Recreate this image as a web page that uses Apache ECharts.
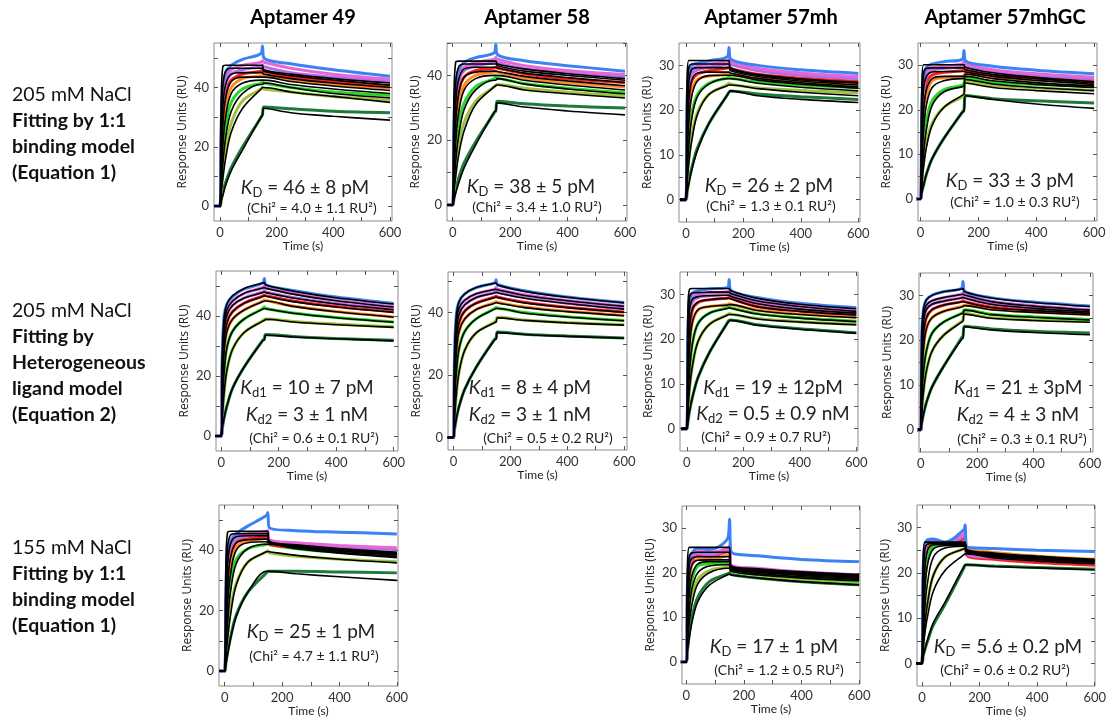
<!DOCTYPE html>
<html><head><meta charset="utf-8">
<script src="https://cdn.jsdelivr.net/npm/echarts@6/dist/echarts.min.js"></script>
<style>html,body{margin:0;padding:0;background:#fff}#c{width:1112px;height:727px}</style>
</head><body><div id="c"></div>
<script>
// ---- shared sampling times (s) and curve colours (highest -> lowest concentration)
const TIMES = [-20, 0, 4, 10, 20, 40, 80, 145, 150, 155, 250, 400, 600];
const COLORS = ['#3d82f5', '#e867d8', '#b06ee6', '#ff1f1f', '#ff8a1e', '#25d825', '#9ec23c', '#1e7a3a'];
const X_TICKS = [0, 100, 200, 300, 400, 500, 600];
const X_LABELS = [0, 200, 400, 600];
const Y_TICKS_55 = [0, 10, 20, 30, 40, 50];
const Y_LABELS_55 = [0, 20, 40];
const Y_TICKS_35 = [0, 5, 10, 15, 20, 25, 30];
const Y_LABELS_35 = [0, 10, 20, 30];
const TITLES = ['Aptamer 49', 'Aptamer 58', 'Aptamer 57mh', 'Aptamer 57mhGC'];
const ROW1_LABEL = ['205 mM NaCl', 'Fitting by 1:1', 'binding model', '(Equation 1)'];
const ROW2_LABEL = ['205 mM NaCl', 'Fitting by', 'Heterogeneous', 'ligand model', '(Equation 2)'];
const ROW3_LABEL = ['155 mM NaCl', 'Fitting by 1:1', 'binding model', '(Equation 1)'];

// ---- Aptamer 49, 205 mM, 1:1
const A49_205_11_DATA = [
 [0,0,26,40,45,47.5,49.5,51.5,54,50,48,46,43.8],
 [0,0,22,37,43,46,47.5,48.5,49,48.5,46.5,44.5,42.8],
 [0,0,19,34,41,44.5,46,47,47.5,47,45,43.5,42],
 [0,0,16,30,38,42.5,44.5,45.5,46,45.5,43.5,42,40.4],
 [0,0,12,25,34,40,43,44,44.5,44,42.5,41,39.8],
 [0,0,8,18,27,35,39.5,41.5,42,41.5,40,38.5,37.4],
 [0,0,5,12,19,28,35.5,39.5,40,39.5,38.5,37,35.7],
 [0,0,2,5,8,13,20,30,31,33.4,32.8,32,31.5]];
const A49_205_11_FIT = [
 [0,0,35,47,47.5,47.5,47.5,47.5,47.5,46,44.5,43,41.5],
 [0,0,25,40,45.5,46.5,46.5,46.5,46.5,45.5,44,42.5,40.8],
 [0,0,18,33,41,44.5,45,45,45,44.5,43,41.5,40],
 [0,0,13,27,36.5,42,43.5,43.5,43.5,43.5,42,40.5,39],
 [0,0,9,20,30,38,41.5,42.5,42.5,42.5,41,39.5,38],
 [0,0,6,14,23,32,38,41,41,41.5,40,38,36.5],
 [0,0,4,9,16,25,33,39.5,40,40,38.5,37,35],
 [0,0,1.5,3.5,7,12,19,30,30.5,33,31.5,30.3,29]];
// ---- Aptamer 58, 205 mM, 1:1
const A58_205_11_DATA = [
 [0,0,24,37,41.5,44,45.5,47,49.5,46.5,44.5,43,41.3],
 [0,0,20,34,40,42.5,44,45,45.5,45,43,41.5,40.2],
 [0,0,17,31,38,41.5,43,44,44.5,44,42,40.8,39.5],
 [0,0,14,27,35,39.5,41.5,42.3,42.5,42.3,40.5,39,37.7],
 [0,0,11,23,31,37,40,41,41.3,41,39.2,37.8,36.4],
 [0,0,7,16,25,31.5,36.5,39,39.5,39.2,37.5,36,34.6],
 [0,0,4.5,11,18,25.5,32,36.5,37,37.2,36,34.8,33.7],
 [0,0,2,4.5,8,13,19.5,28.5,29,32,31.2,30.5,29.9]];
const A58_205_11_FIT = [
 [0,0,33,44,44.4,44.4,44.4,44.4,44.4,43.5,42,40.5,39],
 [0,0,24,37,42.5,43.5,43.5,43.5,43.5,43,41.3,40,38.5],
 [0,0,17,31,38.5,42,42.5,42.5,42.5,42.3,40.7,39.3,37.8],
 [0,0,12,25,34,39.5,41,41.3,41.3,41.2,39.7,38.3,36.8],
 [0,0,8.5,19,28,35.5,39,40,40,40,38.5,37,35.5],
 [0,0,5.5,13,21,29.5,35.5,38.5,38.5,39,37.3,35.8,34.3],
 [0,0,4,8.5,15,23,31,36.5,36.8,37,35.5,34.3,33],
 [0,0,1.5,3.5,6.5,11.5,18.5,28.8,29,31.5,30.2,29,27.8]];
// ---- Aptamer 57mh, 205 mM, 1:1
const A57MH_205_11_DATA = [
 [0,0,22,28,30,30.5,31,32,34,31.5,30,29,28.2],
 [0,0,19,26.5,29,29.8,30.3,31,31.3,30.8,29.3,28.3,27.5],
 [0,0,16.5,25,28,29,29.6,30.3,30.5,30.2,28.8,27.8,27],
 [0,0,13,22,26.5,28,28.8,29.4,29.6,29.3,28,27.2,26.4],
 [0,0,10,18.5,24,26.8,27.6,28,28.2,28,27,26.3,25.7],
 [0,0,6,13,19,23.5,26,27.2,27.5,27.2,26.3,25.6,25],
 [0,0,4,9,14,19.5,23.5,25.7,26,25.8,25,24.4,23.9],
 [0,0,1.5,4,7,11.5,17,23.5,24,24.3,23.6,23,22.4]];
const A57MH_205_11_FIT = [
 [0,0,27,31.1,31.1,31.1,31.1,31.1,31.1,29.5,28,27,26.2],
 [0,0,22,29.5,30.3,30.3,30.3,30.3,30.3,29.2,27.8,26.8,26],
 [0,0,17,26,29,29.5,29.5,29.5,29.5,28.8,27.5,26.5,25.6],
 [0,0,12.5,22,26.5,28.3,28.5,28.5,28.5,28.3,27.1,26.1,25.2],
 [0,0,9,17,23,26.5,27.7,27.8,27.8,27.8,26.7,25.8,24.9],
 [0,0,5.5,12,18,23,25.8,27,27,27,26,25.1,24.3],
 [0,0,3.5,8,13,19,23.5,25.5,25.6,25.6,24.8,24,23.2],
 [0,0,1.5,3.5,6.5,11,17,23.5,24,24.3,23.2,22.4,21.7]];
// ---- Aptamer 57mhGC, 205 mM, 1:1
const A57MHGC_205_11_DATA = [
 [0,0,20,27,29.5,30.3,30.8,31.4,33.3,31,29.8,28.9,28.1],
 [0,0,17,25.5,28.5,29.5,29.8,30.3,30.8,30.3,29,28.1,27.3],
 [0,0,15,24,27.5,28.8,29.3,29.6,30,29.7,28.5,27.7,26.9],
 [0,0,12,21,26,27.8,28.4,28.8,29,28.8,27.8,27.2,26.6],
 [0,0,9,17.5,23,26.5,27.2,27.5,27.8,28.1,27.2,26.7,26.2],
 [0,0,5.5,12,17.5,22,24.5,25.5,26,27,26.2,25.7,25.2],
 [0,0,3.5,8,12.5,17,20.5,23,23.5,26.4,25.5,24.9,24.4],
 [0,0,1.5,3,5.5,9,13.5,19.5,20,23.2,22.5,22,21.5]];
const A57MHGC_205_11_FIT = [
 [0,0,25,30.1,30.1,30.1,30.1,30.1,30.1,29.5,28.3,27.3,26.3],
 [0,0,20,28,29.3,29.4,29.4,29.4,29.4,29,27.9,27,26],
 [0,0,15,24.5,27.5,28.5,28.6,28.6,28.6,28.5,27.5,26.6,25.7],
 [0,0,11,19.5,24.5,27,27.5,27.5,27.5,28,27,26.1,25.3],
 [0,0,7.5,15,21,25,26.5,27,27,27.5,26.5,25.7,25],
 [0,0,4.5,10,15.5,21,24,25.2,25.3,26.8,25.8,25,24.3],
 [0,0,3,7,11.5,16.5,20.5,23.3,23.5,26,25,24.3,23.6],
 [0,0,1.3,3,5.5,9,13.5,19.5,19.6,23.2,22.3,21.3,20.3]];
// ---- Aptamer 49, 205 mM, heterogeneous ligand
const A49_205_HET_DATA = [
 [0,0,28,40,44,46.5,49,51,52.5,50.5,48.5,46.3,44.2],
 [0,0,25,37,42,45,47.5,49.5,50,49.5,47.5,45.3,43.1],
 [0,0,22,35,40.5,43.5,46,48,48.5,48,46.2,44.2,42.3],
 [0,0,19,32,38,41.5,44.3,46.7,47,46.8,45,43.2,41.4],
 [0,0,15,28,35,39,42,45,45.3,45.2,43.3,41.5,39.7],
 [0,0,10,21,29.5,35,39,42.5,43,42.5,41,39.5,38],
 [0,0,6,14,22,29,34.5,38.5,38.8,39,38.2,37.3,36.4],
 [0,0,2.5,6,10,16,23,32,32.4,33.8,33.2,32.5,31.9]];
const A49_205_HET_FIT = [
 [0,0,27,39.5,44,46.8,49.2,51,51.2,50.3,48.3,46.1,44],
 [0,0,24.5,36.8,42,45,47.6,49.3,49.5,49.2,47.3,45.1,43],
 [0,0,21.5,34.5,40.3,43.6,46,47.8,48,47.8,46,44,42.1],
 [0,0,18.5,31.5,37.8,41.5,44.3,46.5,46.7,46.6,44.8,43,41.2],
 [0,0,14.5,27.5,34.8,39,42,44.8,45,45,43.2,41.4,39.6],
 [0,0,10,21,29.5,35,39,42.3,42.5,42.4,40.9,39.4,37.9],
 [0,0,6,14,22,29,34.5,38.3,38.5,38.9,38,37.1,36.2],
 [0,0,2.5,6,10,16,23,31.8,32,33.6,33,32.4,31.7]];
// ---- Aptamer 58, 205 mM, heterogeneous ligand
const A58_205_HET_DATA = [
 [0,0,27,39,43.5,46,48,49.5,50.5,49,47,45,43.2],
 [0,0,24,36.5,41.5,44,46,47.5,48,47.5,45.7,43.9,42.1],
 [0,0,21,34,39.5,42.5,44.8,46.5,47,46.5,44.8,43,41.2],
 [0,0,18,31,37,40.5,43,45,45.3,45,43.3,41.7,40.2],
 [0,0,14,27,34,38,41,43.2,43.5,43.3,41.8,40.4,39.1],
 [0,0,10,20.5,28.5,34,38,41.3,41.6,41.5,40,38.7,37.5],
 [0,0,6,13.5,21,28,33.5,37,37.3,38.5,37.6,36.8,36.1],
 [0,0,2.5,6,10,15.5,22.5,31.5,31.8,33.8,33.1,32.5,31.9]];
const A58_205_HET_FIT = [
 [0,0,26.5,38.8,43.5,46,48,49.4,49.5,48.8,46.8,44.9,43.1],
 [0,0,23.5,36.3,41.5,44,46,47.4,47.5,47.3,45.5,43.8,42],
 [0,0,20.5,33.8,39.5,42.5,44.8,46.3,46.5,46.3,44.6,42.9,41.1],
 [0,0,17.5,30.8,37,40.5,43,44.8,45,44.8,43.1,41.6,40.1],
 [0,0,13.5,26.8,34,38,41,43,43.2,43.1,41.6,40.3,39],
 [0,0,10,20.5,28.5,34,38,41.1,41.3,41.3,39.8,38.6,37.4],
 [0,0,6,13.5,21,28,33.5,36.8,37,38.3,37.5,36.7,36],
 [0,0,2.5,6,10,15.5,22.5,31.3,31.5,33.6,33,32.4,31.8]];
// ---- Aptamer 57mh, 205 mM, heterogeneous ligand
const A57MH_205_HET_DATA = [
 [0,0,22,28.5,30.3,30.8,31.2,31.6,33.3,31,29.3,28,27],
 [0,0,19,27,29.3,30,30.3,30.6,31,30.4,28.6,27.4,26.3],
 [0,0,16,25,28.3,29.3,29.7,30,30.2,29.8,28,26.8,25.9],
 [0,0,13,22,26.5,28.2,28.8,29.2,29.4,29.1,27.3,26.3,25.5],
 [0,0,10,18.5,23.8,26.5,27.3,27.7,27.9,27.8,26.5,25.6,24.9],
 [0,0,6,13,19,23.5,25.8,27,27.2,27,25.7,24.8,24],
 [0,0,4,9,14,19.5,23.3,25.5,25.7,25.6,24.6,23.9,23.3],
 [0,0,1.5,4,7,11.5,17,23.8,24.2,24.3,23.2,22.3,21.4]];
const A57MH_205_HET_FIT = [
 [0,0,27,31.2,31.3,31.3,31.3,31.3,31.3,30.8,29.1,27.8,26.8],
 [0,0,22,29.5,30.3,30.4,30.5,30.5,30.5,30.2,28.5,27.3,26.2],
 [0,0,17,26.5,28.9,29.5,29.7,29.8,29.8,29.6,27.9,26.7,25.8],
 [0,0,13,22.5,26.8,28.3,28.8,29.1,29.1,29,27.2,26.2,25.4],
 [0,0,9.5,18,23.8,26.6,27.3,27.6,27.7,27.7,26.4,25.5,24.8],
 [0,0,6,13,19,23.5,25.8,26.9,27,26.9,25.6,24.7,23.9],
 [0,0,4,9,14,19.5,23.3,25.4,25.5,25.5,24.5,23.8,23.2],
 [0,0,1.5,4,7,11.5,17,23.7,24,24.2,23.1,22.2,21.3]];
// ---- Aptamer 57mhGC, 205 mM, heterogeneous ligand
const A57MHGC_205_HET_DATA = [
 [0,0,22,27,29,30,30.8,31.6,33.1,31,29.5,28.5,27.6],
 [0,0,19,25.5,27.8,28.8,29.5,30.3,30.6,30.2,28.7,27.7,26.8],
 [0,0,17,24,26.8,28,28.7,29.5,29.8,29.5,28.1,27.2,26.4],
 [0,0,14,21.5,25,26.8,27.8,28.6,28.8,28.6,27.4,26.7,26.1],
 [0,0,11,18,22.5,25,26.4,27.5,27.7,27.8,26.9,26.3,25.7],
 [0,0,7,13,17.5,21.5,24,26,26.2,26.8,25.8,25.2,24.6],
 [0,0,4,8.5,13,17.5,21,24.2,24.5,26,25,24.5,24.2],
 [0,0,1.5,3.5,6,9.5,14,20.5,20.9,23.1,22.5,22,21.6]];
const A57MHGC_205_HET_FIT = [
 [0,0,22,27,29,30,30.8,31.4,31.5,30.8,29.4,28.4,27.5],
 [0,0,19,25.5,27.8,28.8,29.5,30.2,30.3,30.1,28.6,27.6,26.7],
 [0,0,17,24,26.8,28,28.7,29.4,29.5,29.4,28,27.1,26.3],
 [0,0,14,21.5,25,26.8,27.8,28.5,28.6,28.5,27.3,26.6,26],
 [0,0,11,18,22.5,25,26.4,27.4,27.5,27.7,26.8,26.2,25.6],
 [0,0,7,13,17.5,21.5,24,25.9,26,26.7,25.7,25.1,24.5],
 [0,0,4,8.5,13,17.5,21,24,24.2,25.8,24.9,24.4,24],
 [0,0,1.5,3.5,6,9.5,14,20.2,20.4,23,22.3,21.7,21.2]];
// ---- Aptamer 49, 155 mM, 1:1
const A49_155_11_DATA = [
 [0,0,25,40,43,45.5,48,51.5,52.5,47.5,46.5,46,45.4],
 [0,0,22,37,42,44.5,45.5,46.3,46.5,43.5,42.5,41.6,40.8],
 [0,0,20,35,41,43.5,44.8,45.5,45.8,43,42,41,40.2],
 [0,0,17,32,39,42.5,43.8,44.5,44.8,42.2,41,40,39.1],
 [0,0,13,27,35.5,41,43,44,44.3,42.4,41,39.8,38.7],
 [0,0,9,20,29,37,40.5,42,42.3,41.8,40.5,39.3,38.3],
 [0,0,5,12,20,29,36,39.5,39.8,39.2,38,37,36.2],
 [0,0,2.5,6,11,18.5,26,32.5,33,33,33,32.8,32.5]];
const A49_155_11_FIT = [
 [0,0,36,46,46.3,46.3,46.3,46.3,46.3,43,41.8,40.6,39.3],
 [0,0,27,41,45,45.5,45.5,45.5,45.5,42.8,41.5,40.3,39],
 [0,0,20,35,42,44.5,44.8,44.8,44.8,42.6,41.3,40,38.7],
 [0,0,14,28,37.5,42.5,43.5,43.7,43.7,42.5,41.1,39.7,38.4],
 [0,0,10,22,32,40,42.5,42.8,42.8,42.3,40.8,39.3,37.9],
 [0,0,7,16,26,35.5,40.5,42,42,42,40.5,39,37.5],
 [0,0,4.5,10.5,18.5,28.5,36,39.5,39.6,39.5,38.3,37,35.8],
 [0,0,2.2,5.5,10.5,18,26,33,33,33,32.2,31.2,30]];
// ---- Aptamer 57mh, 155 mM, 1:1
const A57MH_155_11_DATA = [
 [0,0,18,23,24.5,25.5,25.2,28,32,24.8,23.8,23,22.5],
 [0,0,16,22,23.8,24.8,24.5,25.5,26,21.8,21,20.2,19.5],
 [0,0,14.5,21,23.3,24.3,24,25,25.3,21.6,20.8,20,19.3],
 [0,0,13,20,22.8,23.8,23.7,24.8,25,21.4,20.6,19.8,19],
 [0,0,11,18,21.8,23,23,24,24.5,21.2,20.3,19.5,18.7],
 [0,0,7.5,14,18.5,21.5,22,22.3,22.5,21,20,19,18.2],
 [0,0,5,10,14.5,18.5,20.5,21.3,21.5,20.5,19.5,18.6,17.9],
 [0,0,2.5,6,10,14.5,18,19.8,20,19.6,18.8,18,17.3]];
const A57MH_155_11_FIT = [
 [0,0,22,25.7,25.7,25.7,25.7,25.7,25.7,21.6,20.9,20.2,19.6],
 [0,0,17,23.5,24.5,24.6,24.6,24.6,24.6,21.4,20.7,20,19.4],
 [0,0,14,21.5,23.3,23.6,23.6,23.6,23.6,21.2,20.5,19.8,19.2],
 [0,0,11,18.5,21.8,22.8,22.9,22.9,22.9,21,20.3,19.6,19],
 [0,0,8,15,19.5,22,22.5,22.5,22.5,20.9,20.1,19.4,18.7],
 [0,0,6,11.5,16.5,20,21.5,21.8,21.8,20.7,19.8,19.1,18.5],
 [0,0,4,8.5,13,17.5,20,21,21,20.3,19.5,18.8,18.2],
 [0,0,2.3,5.3,9,13.5,17.2,19.6,19.7,19.5,18.8,18,17.3]];
// ---- Aptamer 57mhGC, 155 mM, 1:1
const A57MHGC_155_11_DATA = [
 [0,0,20,26,27.3,27.5,26.8,29.5,30.6,25.8,25.4,25,24.7],
 [0,0,18,25,27,27.3,26.6,28.5,29,24.5,23.6,23,22.5],
 [0,0,17,24.5,26.8,27,26.5,28,28.5,24.3,23.4,22.8,22.3],
 [0,0,15,23.5,26.3,26.8,26.4,27.5,28,24,23,22.3,21.7],
 [0,0,13,22,25.8,26.6,26.4,26.8,27,25.5,24.5,23.7,23],
 [0,0,9,17.5,23,26,26.3,26.5,26.5,24.8,24,23.3,22.8],
 [0,0,4,8.5,13.5,19.5,23.5,25.3,25.5,24.7,23.8,23.1,22.5],
 [0,0,1.5,3,5,8.5,13,21,21.7,21.8,21.5,21.2,20.8]];
const A57MHGC_155_11_FIT = [
 [0,0,22,26.8,26.8,26.8,26.8,26.8,26.8,25.2,24.4,23.7,23],
 [0,0,17,25,26.4,26.5,26.5,26.5,26.5,25,24.2,23.5,22.8],
 [0,0,12,20.5,25,26.2,26.3,26.3,26.3,24.8,24,23.3,22.7],
 [0,0,8.5,16,22,25.3,26,26.1,26.1,24.7,23.9,23.2,22.6],
 [0,0,6,12,18,23.5,25.5,25.9,25.9,24.6,23.8,23.1,22.5],
 [0,0,4,8.5,13.5,19.5,23.5,25.3,25.4,24.5,23.6,22.9,22.3],
 [0,0,3,6.5,10.5,16,20.5,24,24.2,24.2,23.3,22.6,22],
 [0,0,1.5,3,5.3,9,13.5,21.3,21.7,21.8,21.4,21.1,20.7]];

// ---- panel annotations
const ANNOT = [
 {k: [['D', ' = 46 ', '±', ' 8 pM']], chi: ['4.0', '1.1']},
 {k: [['D', ' = 38 ', '±', ' 5 pM']], chi: ['3.4', '1.0']},
 {k: [['D', ' = 26 ', '±', ' 2 pM']], chi: ['1.3', '0.1']},
 {k: [['D', ' = 33 ', '±', ' 3 pM']], chi: ['1.0', '0.3']},
 {k: [['d1', ' = 10 ', '±', ' 7 pM'], ['d2', ' = 3 ', '±', ' 1 nM']], chi: ['0.6', '0.1']},
 {k: [['d1', ' = 8 ', '±', ' 4 pM'], ['d2', ' = 3 ', '±', ' 1 nM']], chi: ['0.5', '0.2']},
 {k: [['d1', ' = 19 ', '±', ' 12pM'], ['d2', ' = 0.5 ', '±', ' 0.9 nM']], chi: ['0.9', '0.7']},
 {k: [['d1', ' = 21 ', '±', ' 3pM'], ['d2', ' = 4 ', '±', ' 3 nM']], chi: ['0.3', '0.1']},
 {k: [['D', ' = 25 ', '±', ' 1 pM']], chi: ['4.7', '1.1']},
 {k: [['D', ' = 17 ', '±', ' 1 pM']], chi: ['1.2', '0.5']},
 {k: [['D', ' = 5.6 ', '±', ' 0.2 pM']], chi: ['0.6', '0.2']}
];

// ---- layout (pixels) -- box: [left, top, width, height], x/y ranges, note positions
const PANELS = [
 {data: A49_205_11_DATA, fit: A49_205_11_FIT, box: [214, 43, 178, 178], x: [-21, 607], y: [-5, 55], big: true, kx: 305, ky: [188], cx: 312, cy: 208},
 {data: A58_205_11_DATA, fit: A58_205_11_FIT, box: [447, 43, 180, 178], x: [-20, 607], y: [-5, 50], big: true, kx: 531, ky: [187], cx: 537, cy: 207},
 {data: A57MH_205_11_DATA, fit: A57MH_205_11_FIT, box: [679, 43, 181, 179], x: [-24, 606], y: [-5, 35], big: false, kx: 769, ky: [186], cx: 771, cy: 206},
 {data: A57MHGC_205_11_DATA, fit: A57MHGC_205_11_FIT, box: [918, 43, 179, 178], x: [-9, 610], y: [-5, 35], big: false, kx: 1010, ky: [181], cx: 1015, cy: 202},
 {data: A49_205_HET_DATA, fit: A49_205_HET_FIT, box: [216, 271, 182, 180], x: [-18, 615], y: [-5, 55], big: true, kx: 307, ky: [388, 415], cx: 314, cy: 438},
 {data: A58_205_HET_DATA, fit: A58_205_HET_FIT, box: [448, 272, 179, 178], x: [-19, 610], y: [-4, 53], big: true, kx: 530, ky: [388, 415], cx: 548, cy: 438},
 {data: A57MH_205_HET_DATA, fit: A57MH_205_HET_FIT, box: [680, 272, 178, 179], x: [-24, 606], y: [-5, 35], big: false, kx: 773, ky: [388, 414], cx: 766, cy: 437},
 {data: A57MHGC_205_HET_DATA, fit: A57MHGC_205_HET_FIT, box: [919, 273, 174, 179], x: [-6, 611], y: [-5, 35], big: false, kx: 1018, ky: [388, 415], cx: 1022, cy: 439},
 {data: A49_155_11_DATA, fit: A49_155_11_FIT, box: [219, 505, 179, 181], x: [-20, 604], y: [-5, 55], big: true, kx: 311, ky: [632], cx: 314, cy: 656},
 {data: A57MH_155_11_DATA, fit: A57MH_155_11_FIT, box: [682, 506, 178, 178], x: [-15, 603], y: [-5, 35], big: false, kx: 774, ky: [647], cx: 779, cy: 670},
 {data: A57MHGC_155_11_DATA, fit: A57MHGC_155_11_FIT, box: [917, 505, 178, 181], x: [-17, 601], y: [-5, 35], big: false, kx: 1008, ky: [647], cx: 1005, cy: 670}
];
const TITLE_X = [303, 537, 771, 1005];

const FONT = 'Lato, "Open Sans", sans-serif';
const option = {animation: false, grid: [], xAxis: [], yAxis: [], series: [], graphic: []};
const tick = (vals) => ({show: true, inside: true, length: 4, customValues: vals, lineStyle: {color: '#555', width: 1}});
const noLine = {show: false, onZero: false};

PANELS.forEach((p, i) => {
  const [l, t, w, h] = p.box;
  option.grid.push({left: l, top: t, width: w, height: h, show: true, borderColor: '#8c8c8c', borderWidth: 1, backgroundColor: 'rgba(0,0,0,0)'});
  const yt = p.big ? Y_TICKS_55 : Y_TICKS_35, yl = p.big ? Y_LABELS_55 : Y_LABELS_35;
  option.xAxis.push({gridIndex: i, type: 'value', position: 'bottom', min: p.x[0], max: p.x[1],
    axisLine: noLine, splitLine: {show: false}, axisTick: tick(X_TICKS),
    axisLabel: {customValues: X_LABELS, fontSize: 13, color: '#333', margin: 5, fontFamily: FONT},
    name: 'Time (s)', nameLocation: 'middle', nameGap: 18,
    nameTextStyle: {fontSize: 12, color: '#222', fontFamily: FONT}});
  option.xAxis.push({gridIndex: i, type: 'value', position: 'top', min: p.x[0], max: p.x[1],
    axisLine: noLine, splitLine: {show: false}, axisTick: tick(X_TICKS), axisLabel: {show: false}});
  option.yAxis.push({gridIndex: i, type: 'value', position: 'left', min: p.y[0], max: p.y[1],
    axisLine: noLine, splitLine: {show: false}, axisTick: tick(yt),
    axisLabel: {customValues: yl, fontSize: 13, color: '#333', margin: 5, fontFamily: FONT},
    name: 'Response Units (RU)', nameLocation: 'middle', nameGap: 25, nameRotate: 90,
    nameTextStyle: {fontSize: 12, color: '#222', fontFamily: '"Open Sans", sans-serif'}});
  option.yAxis.push({gridIndex: i, type: 'value', position: 'right', min: p.y[0], max: p.y[1],
    axisLine: noLine, splitLine: {show: false}, axisTick: tick(yt), axisLabel: {show: false}});
  for (let k = p.data.length - 1; k >= 0; k--) {
    option.series.push({type: 'line', xAxisIndex: 2 * i, yAxisIndex: 2 * i, silent: true,
      data: TIMES.map((tt, j) => [tt, p.data[k][j]]), showSymbol: false, smooth: 0.35,
      lineStyle: {color: COLORS[k], width: 3}});
  }
  p.fit.forEach(f => {
    option.series.push({type: 'line', xAxisIndex: 2 * i, yAxisIndex: 2 * i, silent: true,
      data: TIMES.map((tt, j) => [tt, f[j]]), showSymbol: false, smooth: 0.35,
      lineStyle: {color: '#000', width: 1.6}});
  });
  // annotations
  const a = ANNOT[i];
  a.k.forEach((row, r) => {
    option.graphic.push({type: 'text', x: p.kx, y: p.ky[r], z: 100, style: {
      text: '{i|K}{s|' + row[0] + '}{t|' + row[1] + '}{pm|' + row[2] + '}{t|' + row[3] + '}',
      align: 'center', verticalAlign: 'middle',
      rich: {
        i: {fontFamily: FONT, fontStyle: 'italic', fontSize: 19, fill: '#222'},
        s: {fontFamily: FONT, fontSize: 13, fill: '#222', padding: [10, 0, 0, 0]},
        t: {fontFamily: FONT, fontSize: 19, fill: '#222'},
        pm: {fontFamily: FONT, fontSize: 18, fill: '#222'}
      }}});
  });
  option.graphic.push({type: 'text', x: p.cx, y: p.cy, z: 100, style: {
    text: '(Chi² = ' + a.chi[0] + ' ± ' + a.chi[1] + ' RU²)', align: 'center', verticalAlign: 'middle',
    font: '14px ' + FONT, fill: '#222'}});
});

TITLES.forEach((s, i) => option.graphic.push({type: 'text', x: TITLE_X[i], y: 18, style: {
  text: s, align: 'center', verticalAlign: 'middle', font: 'bold 20px ' + FONT, fill: '#000'}}));

function leftLabel(lines, y0) {
  lines.forEach((s, j) => option.graphic.push({type: 'text', x: 12, y: y0 + j * 26, style: {
    text: s, align: 'left', verticalAlign: 'middle', font: (j === 0 ? '' : 'bold ') + '19.5px ' + FONT, fill: '#111'}}));
}
leftLabel(ROW1_LABEL, 95);
leftLabel(ROW2_LABEL, 311);
leftLabel(ROW3_LABEL, 548);

const chart = echarts.init(document.getElementById('c'), null, {renderer: 'canvas'});
chart.setOption(option);
</script></body></html>
